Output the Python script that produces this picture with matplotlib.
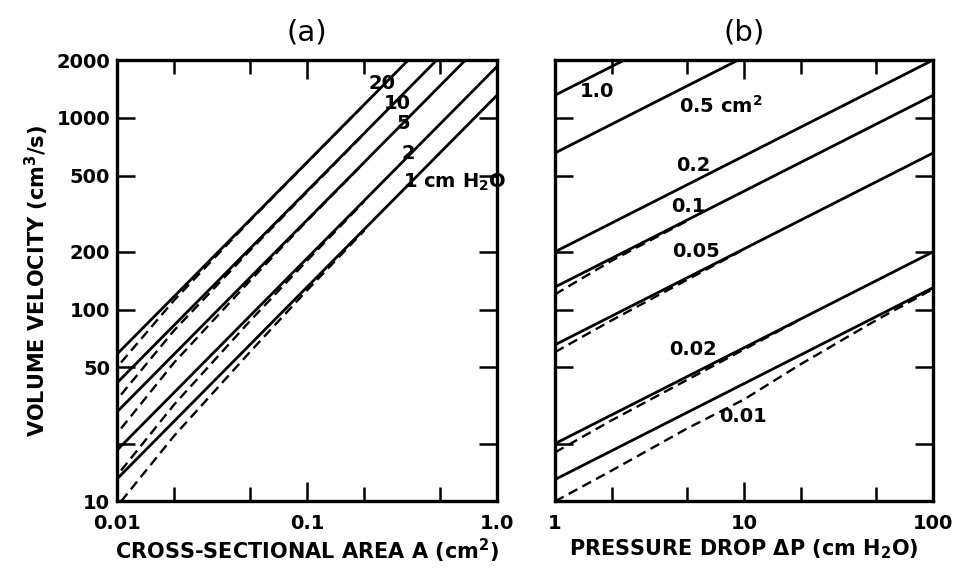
import matplotlib.pyplot as plt
from matplotlib.ticker import FixedLocator, FixedFormatter, NullLocator

plt.rcParams['font.family'] = ['DejaVu Sans']
plt.rcParams['font.weight'] = 'bold'
plt.rcParams['axes.labelweight'] = 'bold'
plt.rcParams['axes.titleweight'] = 'normal'
plt.rcParams['mathtext.default'] = 'bf'

# (a) flow vs area, one line per pressure drop (cm H2O)
pressures = [1, 2, 5, 10, 20]
area_ends = [0.01, 1.0]
solid_lo = [13.1, 18.5, 29.3, 41.5, 58.6]
solid_hi = [1310, 1850, 2930, 4150, 5860]

dash_area = [0.0105, 0.02, 0.05, 0.1, 0.2]
dash_p1 = [10.0, 22.0, 60.0, 126, 258]
dash_p2 = [14.5, 32.0, 87.0, 180, 366]
dash_p5 = [24.0, 53.0, 141, 290, 583]
dash_p10 = [36.0, 78.0, 203, 410, 826]
dash_p20 = [53.0, 112, 290, 583, 1170]
dash_a = [dash_p1, dash_p2, dash_p5, dash_p10, dash_p20]

# (b) flow vs pressure drop, one line per area (cm^2)
areas = [1.0, 0.5, 0.2, 0.1, 0.05, 0.02, 0.01]
press_ends = [1, 100]
b_solid_lo = [1310, 655, 200, 131, 65.5, 20.0, 13.0]
b_solid_hi = [13100, 6550, 2000, 1310, 655, 200, 130]

b_dash_press_01 = [1, 2, 5]
b_dash_01 = [120, 180, 290]
b_dash_press_005 = [1, 2, 5, 10]
b_dash_005 = [60.0, 88.0, 143, 206]
b_dash_press_002 = [1, 2, 5, 10, 20]
b_dash_002 = [18.0, 26.5, 43.0, 62.0, 89.0]
b_dash_press_001 = [1, 2, 5, 10, 20, 50, 100]
b_dash_001 = [10.0, 14.5, 24.0, 34.0, 52.0, 88.0, 128]

y_ticks = [2000, 1000, 500, 200, 100, 50, 20, 10]
y_labels = ['2000', '1000', '500', '200', '100', '50', '', '10']

fig = plt.figure(figsize=(9.56, 5.77), dpi=100)
ax1 = fig.add_axes([0.1224, 0.131, 0.3975, 0.765])
ax2 = fig.add_axes([0.5805, 0.131, 0.3955, 0.765])

lw = 2.0
dash = (0, (4.2, 2.4))


def style_axes(ax, xticks, xlabels, xminor):
    ax.set_xscale('log')
    ax.set_yscale('log')
    ax.set_ylim(10, 2000)
    for s in ax.spines.values():
        s.set_linewidth(2.4)
    ax.xaxis.set_major_locator(FixedLocator(xticks))
    ax.xaxis.set_major_formatter(FixedFormatter(xlabels))
    ax.xaxis.set_minor_locator(FixedLocator(xminor))
    ax.yaxis.set_major_locator(FixedLocator(y_ticks))
    ax.yaxis.set_minor_locator(NullLocator())
    ax.tick_params(which='both', direction='in', top=True, right=True,
                   width=1.8, labelsize=14)
    ax.tick_params(axis='x', which='major', length=14, pad=9)
    ax.tick_params(axis='x', which='minor', length=10)
    ax.tick_params(axis='y', length=13, pad=5)


style_axes(ax1, [0.01, 0.1, 1.0], ['0.01', '0.1', '1.0'], [0.02, 0.05, 0.2, 0.5])
ax1.set_xlim(0.01, 1.0)
ax1.yaxis.set_major_formatter(FixedFormatter(y_labels))

for lo, hi, d in zip(solid_lo, solid_hi, dash_a):
    ax1.plot(area_ends, [lo, hi], color='black', lw=lw)
    ax1.plot(dash_area, d, color='black', lw=lw * 0.85, ls=dash)

ax1.text(0.248, 1507, '20', fontsize=14, ha='center', va='center')
ax1.text(0.298, 1183, '10', fontsize=14, ha='center', va='center')
ax1.text(0.32, 931, '5', fontsize=14, ha='center', va='center')
ax1.text(0.34, 648, '2', fontsize=14, ha='center', va='center')
ax1.text(0.6, 462, '1 cm H$_2$O', fontsize=14, ha='center', va='center')

style_axes(ax2, [1, 10, 100], ['1', '10', '100'], [2, 5, 20, 50])
ax2.set_xlim(1, 100)
ax2.yaxis.set_major_formatter(FixedFormatter([''] * len(y_ticks)))

for lo, hi in zip(b_solid_lo, b_solid_hi):
    ax2.plot(press_ends, [lo, hi], color='black', lw=lw)
ax2.plot(b_dash_press_01, b_dash_01, color='black', lw=lw * 0.85, ls=dash)
ax2.plot(b_dash_press_005, b_dash_005, color='black', lw=lw * 0.85, ls=dash)
ax2.plot(b_dash_press_002, b_dash_002, color='black', lw=lw * 0.85, ls=dash)
ax2.plot(b_dash_press_001, b_dash_001, color='black', lw=lw * 0.85, ls=dash)

ax2.text(1.66, 1368, '1.0', fontsize=14, ha='center', va='center')
ax2.text(7.55, 1156, '0.5 cm$^2$', fontsize=14, ha='center', va='center')
ax2.text(5.4, 561, '0.2', fontsize=14, ha='center', va='center')
ax2.text(5.07, 346, '0.1', fontsize=14, ha='center', va='center')
ax2.text(5.6, 201, '0.05', fontsize=14, ha='center', va='center')
ax2.text(5.4, 61.6, '0.02', fontsize=14, ha='center', va='center')
ax2.text(9.9, 27.6, '0.01', fontsize=14, ha='center', va='center')

ax1.set_title('(a)', fontsize=21, pad=14)
ax2.set_title('(b)', fontsize=21, pad=14)
ax1.set_xlabel('CROSS-SECTIONAL AREA A (cm$^2$)', fontsize=15, labelpad=3)
ax2.set_xlabel('PRESSURE DROP $\\Delta$P (cm H$_2$O)', fontsize=15, labelpad=3)
ax1.set_ylabel('VOLUME VELOCITY (cm$^3$/s)', fontsize=15, labelpad=4)

fig.savefig('out.png', dpi=100)
